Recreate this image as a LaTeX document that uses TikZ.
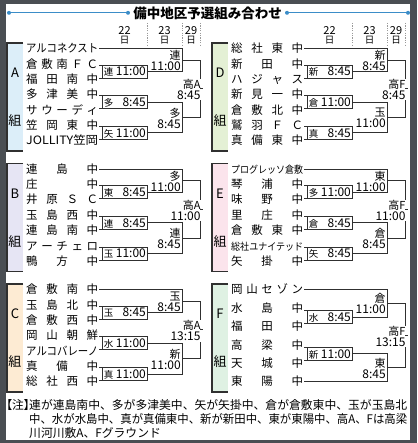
\documentclass[tikz,border=0pt]{standalone}
\usepackage{fontspec}
\usepackage{graphicx}
\setmainfont{Noto Sans CJK JP}
\usetikzlibrary{calc}
\definecolor{frame}{HTML}{4A4E53}
\definecolor{tblue}{HTML}{3B8DC8}
\definecolor{ln}{HTML}{303030}
\definecolor{dashc}{HTML}{9A9A9A}
\definecolor{fA}{HTML}{DCEEF9}
\definecolor{fB}{HTML}{E6E5F4}
\definecolor{fC}{HTML}{FDEBD3}
\definecolor{fD}{HTML}{E4F0D5}
\definecolor{fE}{HTML}{FBE4EC}
\definecolor{fF}{HTML}{DFF1E3}

\makeatletter
\def\sp@A#1#2{#1\ifx#2\relax\else\hfill\expandafter\sp@A\expandafter#2\fi}
\newcommand\spn[1]{\makebox[72pt][s]{\sp@A#1\relax}}
\makeatother
\newcommand\fitn[1]{\resizebox{72pt}{\height}{#1}}
\newcommand\fitsm[1]{\resizebox{72pt}{\height}{\fontsize{10}{10}\selectfont #1}}
\newcommand\tmf{\fontsize{12}{12}\selectfont}
\newcommand\kjs{\fontsize{9.5}{10}\selectfont}
\newcommand\kjb{\fontsize{11}{11}\selectfont}
\newcommand\rl[2]{\makebox[42pt][s]{{\kjs #1}\hfill{\tmf #2}}}
\newcommand\rt[2]{{\kjb #1}\\{\tmf #2}}

\tikzset{
 br/.style={draw=ln, line width=0.85pt},
 lbl/.style={draw=ln, line width=1.1pt},
 tname/.style={anchor=west, inner xsep=1pt, inner ysep=0pt, font=\fontsize{11.5}{12}\selectfont, text height=9.6pt, text depth=1pt},
 r1lab/.style={inner sep=0pt, text height=8.8pt, text depth=0.6pt},
 r2lab/.style={anchor=east, align=right, inner sep=0pt, font=\fontsize{11}{11}\selectfont},
 r3lab/.style={r2lab, fill=white, inner ysep=0.5pt, inner xsep=0.3pt},
 glet/.style={font=\fontsize{13}{13}\selectfont, inner sep=0pt},
 dsh/.style={draw=dashc, line width=0.6pt, dash pattern=on 1.2pt off 1.2pt},
 hdr/.style={inner sep=0pt, font=\fontsize{11}{11}\selectfont},
 hdrd/.style={inner sep=0pt, font=\fontsize{9.5}{10}\selectfont},
 note/.style={anchor=west, inner sep=0pt, font=\fontsize{11.8}{12}\selectfont, text height=9.8pt, text depth=1pt},
}

\newcommand\grp[7]{%
 \fill[#4] (#2+7,#3) rectangle (#2+23,#3+108);
 \draw[lbl] (#2+23,#3) -- (#2+7,#3) -- (#2+7,#3+108) -- (#2+23,#3+108);
 \node[glet] (#1let) at (#2+15,#3+30) {#5};
 \node[glet] (#1kumi) at (#2+15,#3+78) {組};
 \foreach \nm [count=\i from 0] in {#7} {\node[tname] (#1n\i) at (#2+25,#3+5.5+\i*#6) {\nm};}
}

% first-round box: top team node, bottom team node, label name, label
\newcommand\rbox[4]{%
 \coordinate (#3t) at ($(#1.east)!0.5!(#2.east)+(0,-6.5)$);
 \coordinate (#3u) at ($(#1.east)!0.5!(#2.east)+(0,6.5)$);
 \draw[br] (#3t) -- ++(48,0) -- ++(0,13) -- (#3u);
 \draw[br] ($(#3t)+(3,0)$) -- ($(#3u)+(3,0)$);
 \node[r1lab] (#3) at ($(#1.east)!0.5!(#2.east)+(25.5,0.3)$) {#4};
}

\newcommand\finalr[2]{%
 \draw[br] (#1u1) -- ++(18,0) |- (#1u2);
 \coordinate (#1w) at ($(#1u1)!0.5!(#1u2)+(18,0)$);
 \node[r3lab] (#1l6) at ($(#1w)+(0.6,1)$) {#2};
 \draw[br] (#1w) -- ++(3,0);
}

\newcommand\brseven[7]{%
 \rbox{#1n1}{#1n2}{#1b1}{#2}
 \rbox{#1n3}{#1n4}{#1b2}{#3}
 \rbox{#1n5}{#1n6}{#1b3}{#4}
 \coordinate (#1m1) at ($(#1n1.east)!0.5!(#1n2.east)+(48,0)$);
 \coordinate (#1m2) at ($(#1n3.east)!0.5!(#1n4.east)+(48,0)$);
 \coordinate (#1m3) at ($(#1n5.east)!0.5!(#1n6.east)+(48,0)$);
 \draw[br] (#1n0.east) -- ++(83,0) |- (#1m1);
 \draw[br] (#1m2) -- ++(35,0) |- (#1m3);
 \coordinate (#1u1) at ($(#1n0.east)!0.5!(#1m1)+(59,0)$);
 \coordinate (#1u2) at ($(#1m2)!0.5!(#1m3)+(35,0)$);
 \node[r2lab] (#1l4) at ($(#1u1)+(-1.5,0.5)$) {#5};
 \node[r2lab] (#1l5) at ($(#1u2)+(-1.5,0.5)$) {#6};
 \finalr{#1}{#7}
}

\newcommand\brsix[6]{%
 \rbox{#1n1}{#1n2}{#1b1}{#2}
 \rbox{#1n3}{#1n4}{#1b2}{#3}
 \coordinate (#1m1) at ($(#1n1.east)!0.5!(#1n2.east)+(48,0)$);
 \coordinate (#1m2) at ($(#1n3.east)!0.5!(#1n4.east)+(48,0)$);
 \draw[br] (#1n0.east) -- ++(83,0) |- (#1m1);
 \draw[br] (#1n5.east) -- ++(83,0) |- (#1m2);
 \coordinate (#1u1) at ($(#1n0.east)!0.5!(#1m1)+(59,0)$);
 \coordinate (#1u2) at ($(#1n5.east)!0.5!(#1m2)+(59,0)$);
 \node[r2lab] (#1l4) at ($(#1u1)+(-1.5,0.5)$) {#4};
 \node[r2lab] (#1l5) at ($(#1u2)+(-1.5,0.5)$) {#5};
 \finalr{#1}{#6}
}

\newcommand\dhdr[2]{%
 \node[hdr] (#2a) at (#1+124.5,30.5) {22};
 \node[hdrd] (#2b) at (#1+124.5,40.5) {日};
 \node[hdr] (#2c) at (#1+164.5,30.5) {23};
 \node[hdrd] (#2d) at (#1+164.5,40.5) {日};
 \node[hdr] (#2e) at (#1+191,30.5) {29};
 \node[hdrd] (#2f) at (#1+191,40.5) {日};
 \draw[dsh] (#1+147,23) -- (#1+147,45);
 \draw[dsh] (#1+182,23) -- (#1+182,45);
 \draw[dsh] (#1+200.5,23) -- (#1+200.5,45);
}

\begin{document}
\begin{tikzpicture}[x=1pt,y=-1pt]
\useasboundingbox (0,0) rectangle (417,443);
\fill[frame] (0,0) rectangle (417,443);
\fill[white] (6,4) rectangle (410,440);

% title
\node[font=\fontsize{13.5}{14}\selectfont\bfseries, inner sep=0pt] (title) at (207.5,13) {備中地区予選組み合わせ};
\coordinate (tl1) at (9,12.8);
\coordinate (tl2) at (128,12.8);
\coordinate (tr1) at (287,12.8);
\coordinate (tr2) at (408,12.8);
\draw[tblue, line width=1.2pt] (tl1) -- (tl2);
\draw[tblue, line width=1.2pt] (tr1) -- (tr2);
\foreach \c in {tl1,tl2,tr1,tr2} \fill[tblue] (\c) circle (2pt);

\dhdr{0}{hl}
\dhdr{205}{hr}

\grp{A}{0}{43}{fA}{A}{15.35}{{\fitn{アルコネクスト}},{\spn{倉敷南ＦＣ}},{\spn{福田南中}},{\spn{多津美中}},{\spn{サウーディ}},{\spn{笠岡東中}},{\fitn{JOLLITY笠岡}}}
\brseven{A}{\rl{連}{11:00}}{\rl{多}{8:45}}{\rl{矢}{11:00}}{\rt{連}{11:00}}{\rt{多}{8:45}}{\rt{高A}{8:45}}

\grp{B}{0}{163.5}{fB}{B}{15.35}{{\spn{連島中}},{\spn{庄中}},{\spn{井原ＳＣ}},{\spn{玉島西中}},{\spn{連島南中}},{\spn{アーチェロ}},{\spn{鴨方中}}}
\brseven{B}{\rl{東}{8:45}}{\rl{連}{8:45}}{\rl{玉}{11:00}}{\rt{多}{11:00}}{\rt{連}{8:45}}{\rt{高A}{11:00}}

\grp{C}{0}{284}{fC}{C}{15.35}{{\spn{倉敷南中}},{\spn{玉島北中}},{\spn{倉敷西中}},{\spn{岡山朝鮮}},{\fitn{アルコバレーノ}},{\spn{真備中}},{\spn{総社西中}}}
\brseven{C}{\rl{玉}{8:45}}{\rl{水}{11:00}}{\rl{真}{11:00}}{\rt{玉}{8:45}}{\rt{新}{11:00}}{\rt{高A}{13:15}}

\grp{D}{205}{43}{fD}{D}{15.35}{{\spn{総社東中}},{\spn{新田中}},{\spn{ハジャス}},{\spn{新見一中}},{\spn{倉敷北中}},{\spn{鷲羽ＦＣ}},{\spn{真備東中}}}
\brseven{D}{\rl{新}{8:45}}{\rl{倉}{11:00}}{\rl{真}{8:45}}{\rt{新}{8:45}}{\rt{玉}{11:00}}{\rt{高F}{8:45}}

\grp{E}{205}{163.5}{fE}{E}{15.35}{{\fitsm{プログレッソ倉敷}},{\spn{琴浦中}},{\spn{味野中}},{\spn{里庄中}},{\spn{倉敷東中}},{\fitsm{総社ユナイテッド}},{\spn{矢掛中}}}
\brseven{E}{\rl{多}{11:00}}{\rl{倉}{8:45}}{\rl{矢}{8:45}}{\rt{東}{11:00}}{\rt{倉}{8:45}}{\rt{高F}{11:00}}

\grp{F}{205}{284}{fF}{F}{18.4}{{\spn{岡山セゾン}},{\spn{水島中}},{\spn{福田中}},{\spn{高梁中}},{\spn{天城中}},{\spn{東陽中}}}
\brsix{F}{\rl{水}{8:45}}{\rl{新}{11:00}}{\rt{倉}{11:00}}{\rt{東}{8:45}}{\rt{高F}{13:15}}

% notes
\node[note] (nt0) at (6,405) {\addfontfeatures{RawFeature=+palt}【注】};
\node[note] (nt1) at (29,405) {\resizebox{378pt}{\height}{連が連島南中、多が多津美中、矢が矢掛中、倉が倉敷東中、玉が玉島北}};
\node[note] (nt2) at (29,419.5) {\resizebox{378pt}{\height}{中、水が水島中、真が真備東中、新が新田中、東が東陽中、高A、Fは高梁}};
\node[note] (nt3) at (29,433.5) {川河川敷A、Fグラウンド};
\end{tikzpicture}
\end{document}
